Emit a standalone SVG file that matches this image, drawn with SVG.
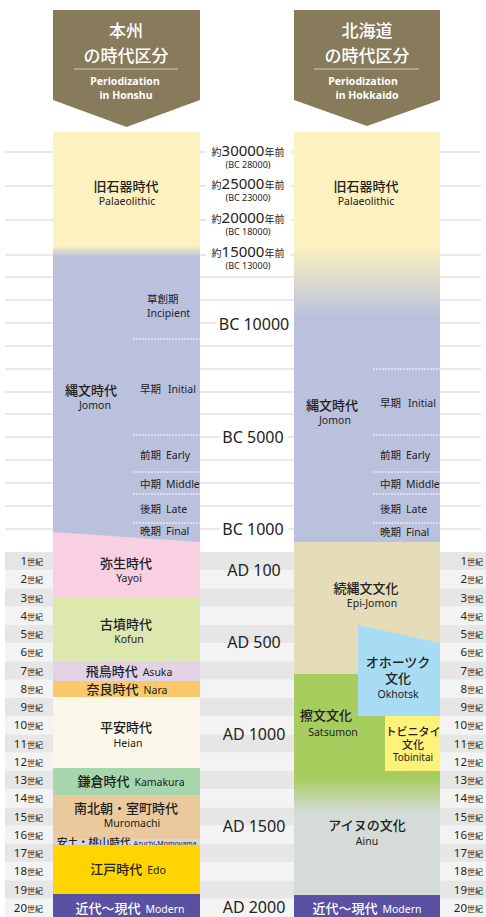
<svg xmlns="http://www.w3.org/2000/svg" width="486" height="917" viewBox="0 0 486 917">
<defs>
<style>
text{font-family:"Noto Sans","Noto Sans CJK JP",sans-serif;fill:#222}
.jp{font-family:"Noto Sans CJK JP","Noto Sans",sans-serif;font-size:13px;font-weight:500}
.en{font-size:10.5px}
.sm{font-size:10.5px}
.hd{fill:#fff;font-family:"Noto Sans CJK JP",sans-serif;font-size:17px;font-weight:500;text-anchor:middle}
.hden{fill:#fff;font-size:10.5px;font-weight:700;text-anchor:middle}
.mid{font-size:16px;text-anchor:middle}
.c{text-anchor:middle}
.grid{stroke:#e2e2e2;stroke-width:1.5}
.dot{stroke:#fff;stroke-width:1.2;stroke-dasharray:2 1}
.odd{fill:#e6e6e6}
.even{fill:#f3f3f3}
.cn{font-size:11.5px}
.cs{font-family:"Noto Sans CJK JP",sans-serif;font-size:8px}
.w{fill:#fff}
.jps{font-family:"Noto Sans CJK JP",sans-serif}
.ka{font-family:"Noto Sans CJK JP",sans-serif;font-size:10px}
.num{font-size:15px}
.bc{font-size:9px;text-anchor:middle}
</style>
<linearGradient id="gL" gradientUnits="userSpaceOnUse" x1="0" y1="246" x2="0" y2="257">
<stop offset="0" stop-color="#FDF1BF"/><stop offset="1" stop-color="#B9C1DD"/>
</linearGradient>
<linearGradient id="gR" gradientUnits="userSpaceOnUse" x1="0" y1="246" x2="0" y2="318">
<stop offset="0" stop-color="#FDF1BF"/><stop offset="1" stop-color="#B9C1DD"/>
</linearGradient>
<linearGradient id="gS" gradientUnits="userSpaceOnUse" x1="0" y1="778" x2="0" y2="812">
<stop offset="0" stop-color="#A6CD5E"/><stop offset="1" stop-color="#D5DBD6"/>
</linearGradient>
</defs>
<rect width="486" height="917" fill="#fff"/>

<g id="grid">
<line class="grid" x1="5" y1="152" x2="481" y2="152"/>
<line class="grid" x1="5" y1="186" x2="481" y2="186"/>
<line class="grid" x1="5" y1="220" x2="481" y2="220"/>
<line class="grid" x1="5" y1="255" x2="481" y2="255"/>
<line class="grid" x1="5" y1="277" x2="481" y2="277"/>
<line class="grid" x1="5" y1="300" x2="481" y2="300"/>
<line class="grid" x1="5" y1="323" x2="481" y2="323"/>
<line class="grid" x1="5" y1="346" x2="481" y2="346"/>
<line class="grid" x1="5" y1="369" x2="481" y2="369"/>
<line class="grid" x1="5" y1="392" x2="481" y2="392"/>
<line class="grid" x1="5" y1="414" x2="481" y2="414"/>
<line class="grid" x1="5" y1="437" x2="481" y2="437"/>
<line class="grid" x1="5" y1="460" x2="481" y2="460"/>
<line class="grid" x1="5" y1="483" x2="481" y2="483"/>
<line class="grid" x1="5" y1="506" x2="481" y2="506"/>
<line class="grid" x1="5" y1="529" x2="481" y2="529"/>
</g>

<g id="rows">
<rect class="odd" x="5" y="552" width="481" height="18.25"/>
<rect class="even" x="5" y="570.25" width="481" height="18.25"/>
<rect class="odd" x="5" y="588.5" width="481" height="18.25"/>
<rect class="even" x="5" y="606.75" width="481" height="18.25"/>
<rect class="odd" x="5" y="625" width="481" height="18.25"/>
<rect class="even" x="5" y="643.25" width="481" height="18.25"/>
<rect class="odd" x="5" y="661.5" width="481" height="18.25"/>
<rect class="even" x="5" y="679.75" width="481" height="18.25"/>
<rect class="odd" x="5" y="698" width="481" height="18.25"/>
<rect class="even" x="5" y="716.25" width="481" height="18.25"/>
<rect class="odd" x="5" y="734.5" width="481" height="18.25"/>
<rect class="even" x="5" y="752.75" width="481" height="18.25"/>
<rect class="odd" x="5" y="771" width="481" height="18.25"/>
<rect class="even" x="5" y="789.25" width="481" height="18.25"/>
<rect class="odd" x="5" y="807.5" width="481" height="18.25"/>
<rect class="even" x="5" y="825.75" width="481" height="18.25"/>
<rect class="odd" x="5" y="844" width="481" height="18.25"/>
<rect class="even" x="5" y="862.25" width="481" height="18.25"/>
<rect class="odd" x="5" y="880.5" width="481" height="18.25"/>
<rect class="even" x="5" y="898.75" width="481" height="18.25"/>
</g>

<g id="century-left" text-anchor="end">
<text x="43" y="565"><tspan class="cn">1</tspan><tspan class="cs">世紀</tspan></text>
<text x="43" y="583.25"><tspan class="cn">2</tspan><tspan class="cs">世紀</tspan></text>
<text x="43" y="601.5"><tspan class="cn">3</tspan><tspan class="cs">世紀</tspan></text>
<text x="43" y="619.75"><tspan class="cn">4</tspan><tspan class="cs">世紀</tspan></text>
<text x="43" y="638"><tspan class="cn">5</tspan><tspan class="cs">世紀</tspan></text>
<text x="43" y="656.25"><tspan class="cn">6</tspan><tspan class="cs">世紀</tspan></text>
<text x="43" y="674.5"><tspan class="cn">7</tspan><tspan class="cs">世紀</tspan></text>
<text x="43" y="692.75"><tspan class="cn">8</tspan><tspan class="cs">世紀</tspan></text>
<text x="43" y="711"><tspan class="cn">9</tspan><tspan class="cs">世紀</tspan></text>
<text x="43" y="729.25"><tspan class="cn">10</tspan><tspan class="cs">世紀</tspan></text>
<text x="43" y="747.5"><tspan class="cn">11</tspan><tspan class="cs">世紀</tspan></text>
<text x="43" y="765.75"><tspan class="cn">12</tspan><tspan class="cs">世紀</tspan></text>
<text x="43" y="784"><tspan class="cn">13</tspan><tspan class="cs">世紀</tspan></text>
<text x="43" y="802.25"><tspan class="cn">14</tspan><tspan class="cs">世紀</tspan></text>
<text x="43" y="820.5"><tspan class="cn">15</tspan><tspan class="cs">世紀</tspan></text>
<text x="43" y="838.75"><tspan class="cn">16</tspan><tspan class="cs">世紀</tspan></text>
<text x="43" y="857"><tspan class="cn">17</tspan><tspan class="cs">世紀</tspan></text>
<text x="43" y="875.25"><tspan class="cn">18</tspan><tspan class="cs">世紀</tspan></text>
<text x="43" y="893.5"><tspan class="cn">19</tspan><tspan class="cs">世紀</tspan></text>
<text x="43" y="911.75"><tspan class="cn">20</tspan><tspan class="cs">世紀</tspan></text>
</g>
<g id="century-right" text-anchor="end">
<text x="483" y="565"><tspan class="cn">1</tspan><tspan class="cs">世紀</tspan></text>
<text x="483" y="583.25"><tspan class="cn">2</tspan><tspan class="cs">世紀</tspan></text>
<text x="483" y="601.5"><tspan class="cn">3</tspan><tspan class="cs">世紀</tspan></text>
<text x="483" y="619.75"><tspan class="cn">4</tspan><tspan class="cs">世紀</tspan></text>
<text x="483" y="638"><tspan class="cn">5</tspan><tspan class="cs">世紀</tspan></text>
<text x="483" y="656.25"><tspan class="cn">6</tspan><tspan class="cs">世紀</tspan></text>
<text x="483" y="674.5"><tspan class="cn">7</tspan><tspan class="cs">世紀</tspan></text>
<text x="483" y="692.75"><tspan class="cn">8</tspan><tspan class="cs">世紀</tspan></text>
<text x="483" y="711"><tspan class="cn">9</tspan><tspan class="cs">世紀</tspan></text>
<text x="483" y="729.25"><tspan class="cn">10</tspan><tspan class="cs">世紀</tspan></text>
<text x="483" y="747.5"><tspan class="cn">11</tspan><tspan class="cs">世紀</tspan></text>
<text x="483" y="765.75"><tspan class="cn">12</tspan><tspan class="cs">世紀</tspan></text>
<text x="483" y="784"><tspan class="cn">13</tspan><tspan class="cs">世紀</tspan></text>
<text x="483" y="802.25"><tspan class="cn">14</tspan><tspan class="cs">世紀</tspan></text>
<text x="483" y="820.5"><tspan class="cn">15</tspan><tspan class="cs">世紀</tspan></text>
<text x="483" y="838.75"><tspan class="cn">16</tspan><tspan class="cs">世紀</tspan></text>
<text x="483" y="857"><tspan class="cn">17</tspan><tspan class="cs">世紀</tspan></text>
<text x="483" y="875.25"><tspan class="cn">18</tspan><tspan class="cs">世紀</tspan></text>
<text x="483" y="893.5"><tspan class="cn">19</tspan><tspan class="cs">世紀</tspan></text>
<text x="483" y="911.75"><tspan class="cn">20</tspan><tspan class="cs">世紀</tspan></text>
</g>

<g id="header-honshu">
<polygon points="53,10 200,10 200,100 126.5,127 53,100" fill="#877B5B"/>
<text class="hd" x="126" y="37">本州</text>
<text class="hd" x="126" y="62">の時代区分</text>
<line x1="74" y1="69" x2="178" y2="69" stroke="#d2cdbf" stroke-width="1.2"/>
<text class="hden" x="125" y="85">Periodization</text>
<text class="hden" x="126" y="99">in Honshu</text>
</g>
<g id="header-hokkaido">
<polygon points="294,10 440,10 440,100 367,126 294,100" fill="#877B5B"/>
<text class="hd" x="367" y="37">北海道</text>
<text class="hd" x="367" y="62">の時代区分</text>
<line x1="314" y1="69" x2="419" y2="69" stroke="#d2cdbf" stroke-width="1.2"/>
<text class="hden" x="363" y="85">Periodization</text>
<text class="hden" x="367" y="99">in Hokkaido</text>
</g>

<g id="honshu-palaeo-jomon">
<rect x="53" y="132" width="147" height="410" fill="url(#gL)"/>
<text class="jp c" x="126" y="191">旧石器時代</text>
<text class="en c" x="127" y="205">Palaeolithic</text>
<line class="dot" x1="133" y1="339" x2="200" y2="339"/>
<line class="dot" x1="133" y1="435" x2="200" y2="435"/>
<line class="dot" x1="133" y1="472" x2="200" y2="472"/>
<line class="dot" x1="133" y1="494" x2="200" y2="494"/>
<line class="dot" x1="133" y1="523" x2="200" y2="523"/>
<text class="jp" x="65" y="395">縄文時代</text>
<text class="en" x="79" y="409">Jomon</text>
<text class="jps sm" x="147" y="303">草創期</text>
<text class="en" x="147" y="317">Incipient</text>
<text x="140" y="393"><tspan class="jps sm">早期</tspan><tspan class="en" x="168">Initial</tspan></text>
<text x="140" y="459"><tspan class="jps sm">前期</tspan><tspan class="en" x="166">Early</tspan></text>
<text x="140" y="488"><tspan class="jps sm">中期</tspan><tspan class="en" x="166">Middle</tspan></text>
<text x="140" y="513"><tspan class="jps sm">後期</tspan><tspan class="en" x="166">Late</tspan></text>
<text x="140" y="535"><tspan class="jps sm">晩期</tspan><tspan class="en" x="166">Final</tspan></text>
</g>
<g id="honshu-yayoi">
<polygon points="53,532 200,542 200,597 53,597" fill="#F8D0E2"/>
<text class="jp c" x="126" y="568">弥生時代</text>
<text class="en c" x="129" y="582">Yayoi</text>
</g>
<g id="honshu-kofun">
<rect x="53" y="597" width="147" height="65" fill="#DDE8AF"/>
<text class="jp c" x="126" y="629">古墳時代</text>
<text class="en c" x="129" y="643">Kofun</text>
</g>
<g id="honshu-asuka">
<rect x="53" y="662" width="147" height="19" fill="#E2D2E6"/>
<text class="c" x="129" y="675.5"><tspan class="jp">飛鳥時代</tspan><tspan class="en" dx="5">Asuka</tspan></text>
</g>
<g id="honshu-nara">
<rect x="53" y="681" width="147" height="16" fill="#FBC96B"/>
<text class="c" x="127" y="693.5"><tspan class="jp">奈良時代</tspan><tspan class="en" dx="5">Nara</tspan></text>
</g>
<g id="honshu-heian">
<rect x="53" y="697" width="147" height="71" fill="#FAF6E8"/>
<text class="jp c" x="126" y="732">平安時代</text>
<text class="en c" x="128" y="747">Heian</text>
</g>
<g id="honshu-kamakura">
<rect x="53" y="768" width="147" height="27" fill="#A8D6AC"/>
<text class="c" x="131" y="786"><tspan class="jp">鎌倉時代</tspan><tspan class="en" dx="5">Kamakura</tspan></text>
</g>
<g id="honshu-muromachi">
<rect x="53" y="795" width="147" height="44" fill="#EAC99D"/>
<text class="jp c" x="126" y="813">南北朝・室町時代</text>
<text class="en c" x="132" y="827">Muromachi</text>
</g>
<g id="honshu-azuchi">
<rect x="53" y="839" width="147" height="6" fill="#D6D4E2"/>
<text x="57" y="846"><tspan class="jps" style="font-size:10.5px;font-weight:500">安土・桃山時代</tspan><tspan dx="3" style="font-size:7px">Azuchi-Momoyama</tspan></text>
</g>
<g id="honshu-edo">
<rect x="53" y="845" width="147" height="49" fill="#FFD400"/>
<text class="c" x="128" y="874"><tspan class="jp">江戸時代</tspan><tspan class="en" dx="5">Edo</tspan></text>
</g>
<g id="honshu-modern">
<rect x="53" y="894" width="147" height="23" fill="#5A51A3"/>
<text class="c" x="130" y="912.5"><tspan class="jp w">近代〜現代</tspan><tspan class="en w" dx="5">Modern</tspan></text>
</g>

<g id="hokkaido-palaeo-jomon">
<rect x="294" y="132" width="146" height="410" fill="url(#gR)"/>
<text class="jp c" x="366" y="191">旧石器時代</text>
<text class="en c" x="366" y="205">Palaeolithic</text>
<line class="dot" x1="373" y1="369" x2="440" y2="369"/>
<line class="dot" x1="373" y1="435" x2="440" y2="435"/>
<line class="dot" x1="373" y1="472" x2="440" y2="472"/>
<line class="dot" x1="373" y1="494" x2="440" y2="494"/>
<line class="dot" x1="373" y1="523" x2="440" y2="523"/>
<text class="jp" x="306" y="410">縄文時代</text>
<text class="en" x="319" y="424">Jomon</text>
<text x="380" y="407"><tspan class="jps sm">早期</tspan><tspan class="en" x="408">Initial</tspan></text>
<text x="380" y="459"><tspan class="jps sm">前期</tspan><tspan class="en" x="406">Early</tspan></text>
<text x="380" y="488"><tspan class="jps sm">中期</tspan><tspan class="en" x="406">Middle</tspan></text>
<text x="380" y="513"><tspan class="jps sm">後期</tspan><tspan class="en" x="406">Late</tspan></text>
<text x="380" y="536"><tspan class="jps sm">晩期</tspan><tspan class="en" x="406">Final</tspan></text>
</g>
<g id="hokkaido-epijomon">
<rect x="294" y="542" width="146" height="132" fill="#E5DCBA"/>
<text class="jp c" x="366" y="593">続縄文文化</text>
<text class="en c" x="372" y="607">Epi-Jomon</text>
</g>
<g id="hokkaido-satsumon-ainu">
<rect x="294" y="674" width="146" height="221" fill="url(#gS)"/>
<text class="jp c" x="326" y="720">擦文文化</text>
<text class="en c" x="333" y="736">Satsumon</text>
<text class="jp c" x="367" y="830">アイヌの文化</text>
<text class="en c" x="367" y="845">Ainu</text>
</g>
<g id="hokkaido-okhotsk">
<polygon points="358,625 440,643 440,716 358,716" fill="#A8DCF5"/>
<text class="jp c" x="398" y="667">オホーツク</text>
<text class="jp c" x="398" y="683">文化</text>
<text class="en c" x="398" y="698">Okhotsk</text>
</g>
<g id="hokkaido-tobinitai">
<rect x="385" y="716" width="55" height="55" fill="#FFF27A"/>
<text class="jps c" x="413" y="736" style="font-size:11px;font-weight:500">トビニタイ</text>
<text class="jps c" x="413" y="748.5" style="font-size:11px;font-weight:500">文化</text>
<text class="en c" x="413" y="761" style="font-size:10px">Tobinitai</text>
</g>
<g id="hokkaido-modern">
<rect x="294" y="895" width="146" height="22" fill="#5A51A3"/>
<text class="c" x="367" y="912.5"><tspan class="jp w">近代〜現代</tspan><tspan class="en w" dx="5">Modern</tspan></text>
</g>

<g id="mid-labels">
<rect x="206" y="144" width="85" height="26" fill="#fff"/>
<text class="c" x="248" y="156"><tspan class="ka">約</tspan><tspan class="num">30000</tspan><tspan class="ka">年前</tspan></text>
<text class="bc" x="248" y="168">(BC 28000)</text>
<rect x="206" y="177" width="85" height="26" fill="#fff"/>
<text class="c" x="248" y="189"><tspan class="ka">約</tspan><tspan class="num">25000</tspan><tspan class="ka">年前</tspan></text>
<text class="bc" x="248" y="201">(BC 23000)</text>
<rect x="206" y="211" width="85" height="26" fill="#fff"/>
<text class="c" x="248" y="223"><tspan class="ka">約</tspan><tspan class="num">20000</tspan><tspan class="ka">年前</tspan></text>
<text class="bc" x="248" y="235">(BC 18000)</text>
<rect x="206" y="245" width="85" height="26" fill="#fff"/>
<text class="c" x="248" y="257"><tspan class="ka">約</tspan><tspan class="num">15000</tspan><tspan class="ka">年前</tspan></text>
<text class="bc" x="248" y="269">(BC 13000)</text>
<rect x="216" y="315" width="76" height="17" fill="#fff"/>
<text class="mid" x="254" y="330">BC 10000</text>
<rect x="220" y="429" width="68" height="17" fill="#fff"/>
<text class="mid" x="253" y="443">BC 5000</text>
<rect x="220" y="521" width="68" height="17" fill="#fff"/>
<text class="mid" x="253" y="535">BC 1000</text>
<text class="mid" x="254" y="576">AD 100</text>
<text class="mid" x="254" y="648">AD 500</text>
<text class="mid" x="254" y="740">AD 1000</text>
<text class="mid" x="254" y="832">AD 1500</text>
<text class="mid" x="254" y="913">AD 2000</text>
</g>
</svg>
